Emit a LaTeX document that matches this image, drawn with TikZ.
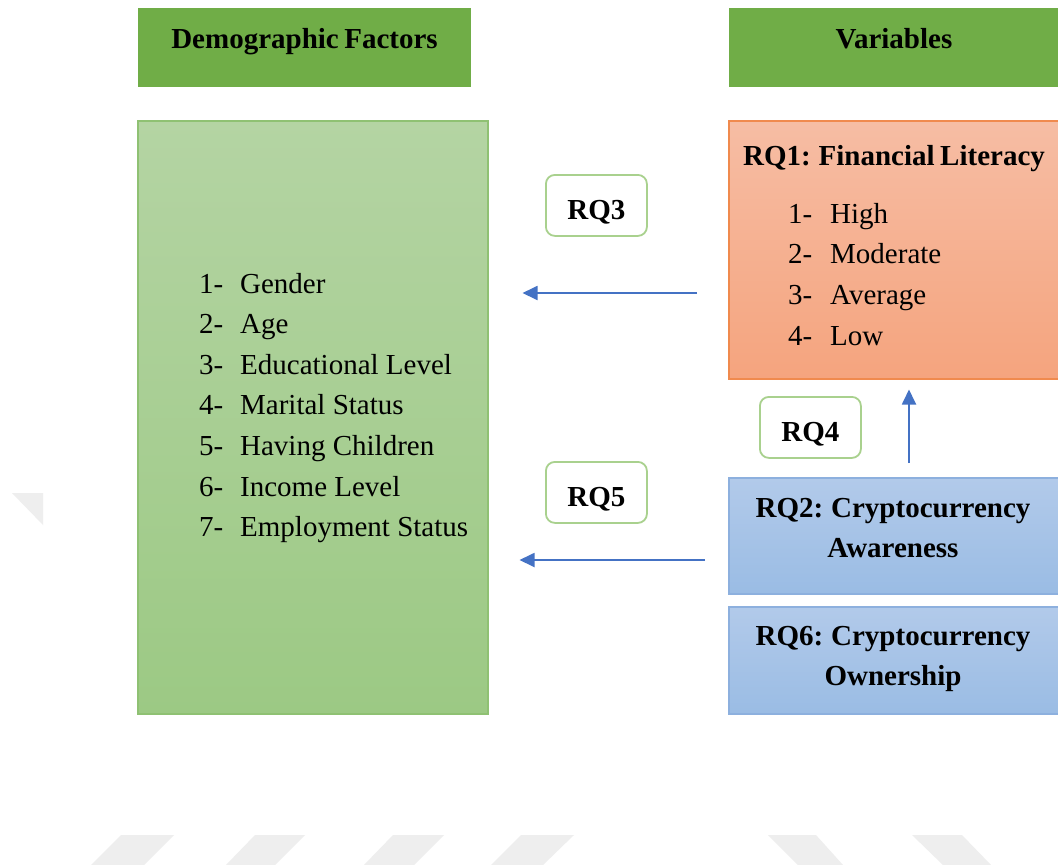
\documentclass[tikz,border=0pt]{standalone}
\usepackage{fontspec}
\setmainfont{Liberation Serif}
\usetikzlibrary{arrows.meta}
\newcommand\tightwords{\spaceskip=5.5pt plus 1pt minus 1pt\relax}
\definecolor{hdrgreen}{HTML}{70AD47}
\definecolor{demotop}{HTML}{B4D4A3}
\definecolor{demobot}{HTML}{9CC984}
\definecolor{demoborder}{HTML}{8FC173}
\definecolor{rqonetop}{HTML}{F6BDA4}
\definecolor{rqonebot}{HTML}{F5A47E}
\definecolor{rqoneborder}{HTML}{F08A4E}
\definecolor{bluetop}{HTML}{B2CAEA}
\definecolor{bluebot}{HTML}{9ABCE4}
\definecolor{blueborder}{HTML}{8DB0DE}
\definecolor{rqborder}{HTML}{A9D18E}
\definecolor{arrblue}{HTML}{4472C4}
\definecolor{wmgray}{HTML}{EEEEEE}
\begin{document}
\begin{tikzpicture}[x=1pt,y=-1pt,
  hdr/.style={fill=hdrgreen, inner sep=0pt, anchor=north west, minimum height=79pt},
  txt/.style={font=\fontsize{29}{35}\selectfont, inner sep=0pt, anchor=base west},
  btxt/.style={font=\bfseries\fontsize{29}{35}\selectfont\tightwords, inner sep=0pt, anchor=base},
  bigbox/.style={line width=1.5pt, inner sep=0pt, anchor=north west},
  bluebox/.style={bigbox, draw=blueborder, top color=bluetop, bottom color=bluebot, minimum width=340pt},
  rqlab/.style={draw=rqborder, line width=1.8pt, fill=white, rounded corners=9pt,
    minimum width=101pt, minimum height=61pt, inner sep=0pt,
    font=\bfseries\fontsize{29}{35}\selectfont, text height=29pt, text depth=0pt, anchor=north west},
  arr/.style={draw=arrblue, line width=1.8pt, -{Triangle[length=15pt,width=14pt]}},
  wm/.style={fill=wmgray, draw=none}
]
\clip (0,0) rectangle (1058,865);
\fill[white] (0,0) rectangle (1058,865);

% faint watermark shapes
\fill[wm] (12,493) -- (43,493) -- (43,525) -- cycle;
\fill[wm] (121,835) -- (174,835) -- (144,865) -- (91,865) -- cycle;
\fill[wm] (255,835) -- (305,835) -- (275,865) -- (226,865) -- cycle;
\fill[wm] (393,835) -- (444,835) -- (414,865) -- (364,865) -- cycle;
\fill[wm] (521,835) -- (574,835) -- (543,865) -- (491,865) -- cycle;
\fill[wm] (768,835) -- (816,835) -- (843,865) -- (798,865) -- cycle;
\fill[wm] (912,835) -- (962,835) -- (991,865) -- (943,865) -- cycle;

% headers
\node[hdr, minimum width=333pt] (hdrdemo) at (138,8) {};
\node[btxt] (hdrdemotext) at (304.5,48) {Demographic Factors};
\node[hdr, minimum width=340pt] (hdrvar) at (729,8) {};
\node[btxt] (hdrvartext) at (894,48) {Variables};

% demographic box
\node[bigbox, draw=demoborder, top color=demotop, bottom color=demobot,
  minimum width=350pt, minimum height=593pt] (demo) at (137,120) {};
\foreach \t [count=\i] in {Gender, Age, Educational Level, Marital Status, Having Children, Income Level, Employment Status}
  \node[txt] (d\i) at (199,{293+40.6*(\i-1)}) {\makebox[41pt][l]{\i-}\t};

% RQ1 box
\node[bigbox, draw=rqoneborder, top color=rqonetop, bottom color=rqonebot,
  minimum width=340pt, minimum height=258pt] (rq1) at (728,120) {};
\node[btxt] (rq1text) at (894,165) {RQ1: Financial Literacy};
\foreach \t [count=\i] in {High, Moderate, Average, Low}
  \node[txt] (f\i) at (788,{223+40.7*(\i-1)}) {\makebox[42pt][l]{\i-}\t};

% RQ2 and RQ6 boxes
\node[bluebox, minimum height=116pt] (rq2) at (728,477) {};
\node[btxt] (rq2a) at (893,517) {RQ2: Cryptocurrency};
\node[btxt] (rq2b) at (893,557) {Awareness};
\node[bluebox, minimum height=107pt] (rq6) at (728,606) {};
\node[btxt] (rq6a) at (893,645) {RQ6: Cryptocurrency};
\node[btxt] (rq6b) at (893,685) {Ownership};

% RQ labels
\node[rqlab] (rq3) at (545,174) {RQ3};
\node[rqlab] (rq4) at (759,396) {RQ4};
\node[rqlab] (rq5) at (545,461) {RQ5};

% arrows
\coordinate (ya) at (0,293);
\coordinate (yb) at (0,560);
\coordinate (xc) at (909,0);
\draw[arr, shorten <=31pt, shorten >=34pt] (rq1.west |- ya) -- (demo.east |- ya);
\draw[arr, shorten <=23pt, shorten >=31pt] (rq2.west |- yb) -- (demo.east |- yb);
\draw[arr, shorten <=14pt, shorten >=10pt] (rq2.north -| xc) -- (rq1.south -| xc);
\end{tikzpicture}
\end{document}
